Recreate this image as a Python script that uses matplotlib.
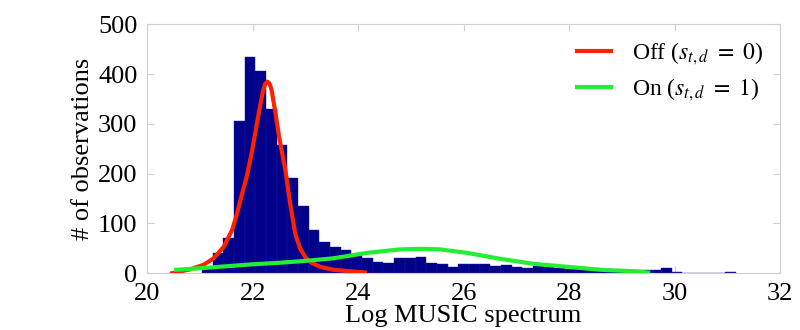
import matplotlib
matplotlib.use("Agg")
import matplotlib.pyplot as plt
import numpy as np

plt.rcParams['font.family'] = ['Liberation Serif', 'DejaVu Serif']
plt.rcParams['mathtext.fontset'] = 'stix'

# Histogram: 50 equal bins between the data min and max
bin_lo, bin_hi, n_bins = 21.04, 31.16, 50
counts = [8, 41, 70, 306, 434, 407, 331, 257, 191, 135,
          86, 62, 53, 47, 37, 31, 22, 20, 30, 30,
          32, 21, 18, 13, 18, 18, 18, 14, 16, 12,
          11, 15, 12, 10, 9, 9, 8, 8, 7, 7,
          7, 6, 7, 10, 2, 0, 1, 1, 0, 3]

# Fitted component curves
off_x = [20.47, 20.82, 21.07, 21.26, 21.45, 21.61, 21.70, 21.80, 21.89, 21.98,
         22.08, 22.13, 22.20, 22.24, 22.28, 22.32, 22.36, 22.43, 22.50, 22.62,
         22.71, 22.81, 22.90, 23.00, 23.10, 23.28, 23.53, 23.85, 24.13]
off_y = [0, 8, 17, 30, 53, 87, 118, 160, 195, 241,
         300, 330, 368, 381, 385, 381, 368, 323, 275, 207,
         141, 78, 50, 32, 22, 13, 7, 4, 1.5]

on_x = [20.55, 21.0, 21.5, 22.0, 22.5, 22.90, 23.53, 24.17, 24.80, 25.18,
        25.55, 26.06, 26.69, 27.32, 27.96, 28.59, 29.22, 29.50]
on_y = [7, 10, 14, 18, 21, 24, 30, 41, 48, 49,
        48, 41, 29, 19, 13, 7, 4, 1.5]

fig = plt.figure(figsize=(8, 3.3), dpi=100)
ax = fig.add_axes([0.184, 0.172, 0.791, 0.754])

edges = np.linspace(bin_lo, bin_hi, n_bins + 1)
ax.bar(edges[:-1], counts, width=np.diff(edges), align='edge',
       color='#00008b', edgecolor='#1a1a9a', linewidth=0.3, zorder=2)

ax.plot(off_x, off_y, color='#ff2200', lw=3, solid_joinstyle='round',
        label=r'Off ($s_{t,d}\ =\ 0$)', zorder=3)
ax.plot(on_x, on_y, color='#22ee33', lw=3, solid_joinstyle='round',
        label=r'On ($s_{t,d}\ =\ 1$)', zorder=3)

ax.set_xlim(20, 32)
ax.set_ylim(0, 500)
ax.set_xticks(np.arange(20, 33, 2))
ax.set_yticks(np.arange(0, 501, 100))
ax.tick_params(direction='in', top=True, right=True, length=5,
               color='#d0d0d0', labelsize=19)
ax.tick_params(axis='x', pad=7)
ax.tick_params(axis='y', pad=7)
for s in ax.spines.values():
    s.set_color('#d0d0d0')

ax.set_xlabel('Log MUSIC spectrum', fontsize=19, labelpad=0)
ax.set_ylabel('# of observations', fontsize=19, labelpad=3)

ax.legend(loc='upper right', frameon=False, fontsize=17, handlelength=1.45,
          handletextpad=0.9, borderaxespad=0.3, labelspacing=0.4)

fig.savefig('out.png', dpi=100)
